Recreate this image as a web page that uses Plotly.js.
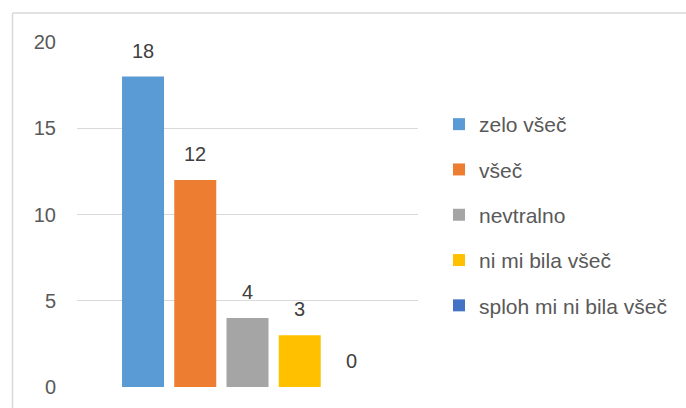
<!DOCTYPE html>
<html>
<head>
<meta charset="utf-8">
<script src="https://cdn.plot.ly/plotly-3.0.1.min.js"></script>
<style>
  html, body { margin: 0; padding: 0; background: #ffffff; }
  #chart { width: 686px; height: 408px; }
</style>
</head>
<body>
<div id="chart"></div>
<script>
// Data
const categories = ["zelo všeč", "všeč", "nevtralno", "ni mi bila všeč", "sploh mi ni bila všeč"];
const values = [18, 12, 4, 3, 0];
const colors = ["#5b9bd5", "#ed7d31", "#a5a5a5", "#ffc000", "#4472c4"];
const yTicks = [0, 5, 10, 15, 20];

const FONT = "'Liberation Sans', Arial, sans-serif";
const TXT = "#595959";

// plot area pixel geometry
const L = 77, R = 418, T = 42, B = 387, W = 686, H = 408;
const px2x = p => (p - L) / (R - L);
const py2y = p => (B - p) / (B - T);

const traces = categories.map((c, i) => ({
  type: "bar",
  name: c,
  x: [c],
  y: [values[i]],
  marker: { color: colors[i] },
  legendgroup: "g" + i,
  hoverinfo: "skip"
}));

const annotations = categories.map((c, i) => ({
  x: c, y: values[i], xref: "x", yref: "y",
  text: String(values[i]),
  showarrow: false,
  yanchor: "bottom",
  yshift: 13,
  font: { family: FONT, size: 20, color: "#404040" }
}));

const layout = {
  width: W, height: H,
  margin: { l: L, r: W - R, t: T, b: H - B, pad: 0 },
  paper_bgcolor: "#ffffff",
  plot_bgcolor: "#ffffff",
  barmode: "relative",
  bargap: 0.196,
  showlegend: true,
  legend: {
    x: px2x(439), xanchor: "left",
    y: py2y(215), yanchor: "middle",
    tracegroupgap: 15,
    font: { family: FONT, size: 21, color: TXT },
    bgcolor: "rgba(0,0,0,0)",
    borderwidth: 0
  },
  xaxis: {
    type: "category",
    range: [-1.264, 5.264],
    showticklabels: false,
    showgrid: false,
    zeroline: false,
    showline: false,
    ticks: "",
    fixedrange: true
  },
  yaxis: {
    range: [0, 20],
    tickvals: yTicks,
    ticktext: yTicks.map(String),
    showgrid: true,
    gridcolor: "#d9d9d9",
    gridwidth: 1,
    zeroline: false,
    showline: false,
    ticks: "",
    ticklabelstandoff: 20,
    tickfont: { family: FONT, size: 20, color: TXT },
    fixedrange: true
  },
  annotations: annotations,
  shapes: [
    { type: "line", xref: "paper", yref: "paper", x0: px2x(12.5), x1: px2x(690), y0: py2y(13), y1: py2y(13), line: { color: "#d9d9d9", width: 1.5 } },
    { type: "line", xref: "paper", yref: "paper", x0: px2x(12.5), x1: px2x(12.5), y0: py2y(13), y1: py2y(412), line: { color: "#d9d9d9", width: 1.5 } }
  ]
};

Plotly.newPlot("chart", traces, layout, { staticPlot: true, displayModeBar: false });
</script>
</body>
</html>
